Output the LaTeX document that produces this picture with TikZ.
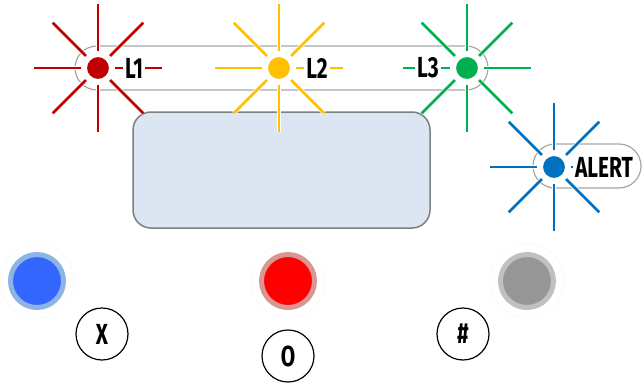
\documentclass[tikz,border=0pt]{standalone}
\usepackage{fontspec}
\newfontfamily\panelfont{Fira Sans}[FakeStretch=0.72]
\usetikzlibrary{positioning}

\definecolor{ledred}{HTML}{C00000}
\definecolor{ledyellow}{HTML}{FFC000}
\definecolor{ledgreen}{HTML}{00B050}
\definecolor{ledblue}{HTML}{0070C0}
\definecolor{pillgray}{HTML}{A6A6A6}
\definecolor{screenfill}{HTML}{DCE6F2}
\definecolor{screenline}{HTML}{7F7F7F}
\definecolor{btnblue}{HTML}{3366FF}
\definecolor{ringblue}{HTML}{8EB4E3}
\definecolor{ringred}{HTML}{D99694}
\definecolor{btngray}{HTML}{969696}
\definecolor{ringgray}{HTML}{C0C0C0}

\newcommand*{\rayIn}{17}
\newcommand*{\rayOut}{64}

\tikzset{
    led/.style={circle, fill=#1, draw=white, line width=3pt, inner sep=0pt, minimum size=25pt},
    ray/.style={draw=white, double=#1, double distance=2.6pt, line width=0.8pt},
    ledlabel/.style={fill=white, inner sep=2.5pt, font=\panelfont\bfseries\fontsize{29pt}{29pt}\selectfont},
    pill/.style={draw=pillgray, line width=1.2pt, fill=white, rounded corners=22pt},
    button/.style={circle, fill=#1, line width=5pt, minimum size=53pt, inner sep=0pt},
    halo/.style={circle, draw=black!3, line width=0.6pt, minimum size=74pt, inner sep=0pt},
    key/.style={circle, draw=black, line width=1.2pt, minimum size=52pt, inner sep=0pt,
        font=\panelfont\bfseries\fontsize{29pt}{29pt}\selectfont}
}

\begin{document}
\begin{tikzpicture}[x=1pt,y=-1pt]
\useasboundingbox (0,0) rectangle (644,385);

% bar of the three lamps
\draw[pill] (75,46) rectangle (488,90);

% display
\draw[fill=screenfill, draw=screenline, line width=1.5pt, rounded corners=18pt] (133,112) rectangle (430,228);

% alert pill
\draw[pill] (533,144) rectangle (641,188);

% lamps
\node[led=ledred] (l1) at (98,68) {};
\node[led=ledyellow] (l2) at (279,68) {};
\node[led=ledgreen] (l3) at (467,68) {};
\node[led=ledblue] (al) at (554,167) {};

% rays
\foreach \n/\c in {l1/ledred, l2/ledyellow, l3/ledgreen, al/ledblue} {
    \foreach \a in {0,45,...,315} {
        \draw[ray=\c] ([shift={(\a:\rayIn)}]\n.center) -- ([shift={(\a:\rayOut)}]\n.center);
    }
}

% lamp labels
\node[ledlabel] (t1) at ([xshift=36pt]l1.center) {L1};
\node[ledlabel] (t2) at ([xshift=38pt]l2.center) {L2};
\node[ledlabel] (t3) at ([xshift=-39pt]l3.center) {L3};
\node[ledlabel] (ta) at ([xshift=50pt]al.center) {ALERT};

% buttons
\node[halo] (hb) at (37,281) {};
\node[halo] (hr) at (288,281) {};
\node[halo] (hg) at (527,281) {};
\node[button=btnblue, draw=ringblue] (bb) at (37,281) {};
\node[button=red, draw=ringred] (br) at (288,281) {};
\node[button=btngray, draw=ringgray] (bg) at (527,281) {};

% keys
\node[key] (kx) at (102,334) {X};
\node[key] (ko) at (288,356) {O};
\node[key] (kh) at (463,334) {\#};

\end{tikzpicture}
\end{document}
